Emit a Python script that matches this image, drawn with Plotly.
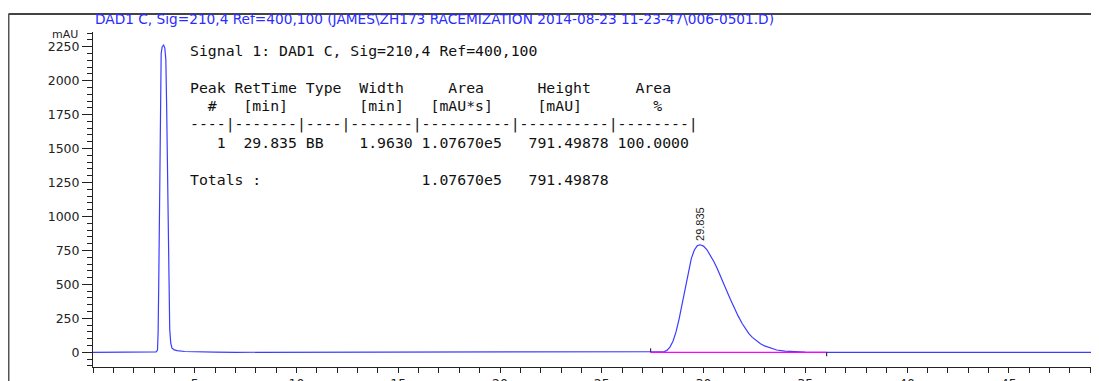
import plotly.graph_objects as go

# ---------------- data ----------------
time_min = [0.0, 2.9, 3.10, 3.17, 3.20, 3.23, 3.26, 3.29, 3.31, 3.35, 3.40, 3.47,
            3.53, 3.58, 3.62, 3.66, 3.70, 3.74, 3.77, 3.82, 3.88, 4.00, 4.13, 4.50,
            5.00, 6.00, 7.00, 27.40, 27.90, 28.05, 28.20, 28.35, 28.50, 28.65, 28.80,
            28.95, 29.10, 29.25, 29.40, 29.55, 29.70, 29.84, 30.00, 30.17, 30.35,
            30.52, 30.69, 30.85, 31.00, 31.15, 31.32, 31.50, 31.70, 31.90, 32.05,
            32.22, 32.40, 32.60, 32.80, 33.00, 33.30, 33.60, 34.00, 34.50, 35.00,
            35.50, 49.50]
signal_mau = [0, 0, 3, 17, 150, 500, 1000, 1600, 2050, 2200, 2250, 2262,
              2240, 2150, 1800, 1300, 800, 400, 170, 70, 30, 18, 12, 6,
              3, 1, 0, 0, 0, 4, 14, 38, 82, 150, 245,
              360, 480, 595, 690, 753, 786, 791.5, 782, 755, 712,
              665, 612, 560, 505, 450, 390, 330, 268, 212, 176,
              140, 110, 84, 63, 47, 29, 17, 8, 3, 1,
              0, 0]

peak_rt = [29.835]
peak_height = [791.49878]
peak_labels = ["29.835"]
baseline_start = 27.40
baseline_end = 36.05

x_ticks = [5, 10, 15, 20, 25, 30, 35, 40, 45]
y_ticks = [0, 250, 500, 750, 1000, 1250, 1500, 1750, 2000, 2250]
x_unit = "min"
y_unit = "mAU"

title_text = "DAD1 C, Sig=210,4 Ref=400,100 (JAMES\\ZH173 RACEMIZATION 2014-08-23 11-23-47\\006-0501.D)"
report_lines = [
    "Signal 1: DAD1 C, Sig=210,4 Ref=400,100",
    "",
    "Peak RetTime Type  Width     Area      Height     Area",
    "  #   [min]        [min]   [mAU*s]     [mAU]        %",
    "----|-------|----|-------|----------|----------|--------|",
    "   1  29.835 BB    1.9630 1.07670e5   791.49878 100.0000",
    "",
    "Totals :                  1.07670e5   791.49878",
]

# ---------------- layout geometry ----------------
# The page body has an 8 px default margin, so figure = screen - 8.
OFF = 8
W, H = 1099 - OFF, 381 - OFF
ML, MR, MT, MB = 85, 0, 24, 14
PW = W - ML - MR
PH = H - MT - MB
X_PX_PER_MIN = 20.35
Y_PX_PER_MAU = (352.3 - 46.7) / 2250.0
Y_ZERO_SCREEN = 352.3
PLOT_TOP_SCREEN = OFF + MT
PLOT_BOTTOM_SCREEN = OFF + H - MB
x_range = [0, PW / X_PX_PER_MIN]
y_range = [-(PLOT_BOTTOM_SCREEN - Y_ZERO_SCREEN) / Y_PX_PER_MAU,
           (Y_ZERO_SCREEN - PLOT_TOP_SCREEN) / Y_PX_PER_MAU]


def px_x(px):  # screen x -> paper
    return (px - OFF - ML) / PW


def px_y(py):  # screen y -> paper
    return (H - MB - (py - OFF)) / PH


BLUE = "#3c3cff"
AXIS_FONT = dict(family="DejaVu Sans, sans-serif", size=12.5, color="#222222")
MONO = dict(family="DejaVu Sans Mono, monospace", size=14.8, color="#111111")

fig = go.Figure()
fig.add_trace(go.Scatter(x=time_min, y=signal_mau, mode="lines",
                         line=dict(color=BLUE, width=1.2), hoverinfo="skip",
                         showlegend=False))
fig.add_trace(go.Scatter(x=[baseline_start, baseline_end], y=[0, 0], mode="lines",
                         line=dict(color="#ff00ff", width=1.3), hoverinfo="skip",
                         showlegend=False))
# x-axis unit label at the far right, below the axis (outside the plot area)
fig.add_trace(go.Scatter(x=[(1092 - OFF - ML) / X_PX_PER_MIN],
                         y=[-(378 - Y_ZERO_SCREEN) / Y_PX_PER_MAU],
                         mode="text", text=[x_unit], textposition="middle right",
                         textfont=AXIS_FONT, cliponaxis=False, hoverinfo="skip",
                         showlegend=False))

shapes = [
    # outer frame (top and left)
    dict(type="line", xref="paper", yref="paper", x0=px_x(8.5), x1=1.0,
         y0=px_y(14), y1=px_y(14), line=dict(color="#444444", width=2)),
    dict(type="line", xref="paper", yref="paper", x0=px_x(8.5), x1=px_x(8.5),
         y0=px_y(14), y1=px_y(390), line=dict(color="#555555", width=2)),
    # baseline start / end markers
    dict(type="line", xref="x", yref="y", x0=baseline_start, x1=baseline_start,
         y0=0, y1=4 / Y_PX_PER_MAU, line=dict(color="#333333", width=1.2)),
    dict(type="line", xref="x", yref="y", x0=baseline_end, x1=baseline_end,
         y0=0, y1=-4 / Y_PX_PER_MAU, line=dict(color="#333333", width=1.2)),
]

annotations = [
    dict(text=title_text, xref="paper", yref="paper", x=px_x(93), y=px_y(19),
         xanchor="left", yanchor="middle", showarrow=False,
         font=dict(family="DejaVu Sans, sans-serif", size=13.7, color="#2b2bff")),
    dict(text=y_unit, xref="paper", yref="paper", x=px_x(80), y=px_y(35),
         xanchor="right", yanchor="middle", showarrow=False,
         font=dict(family="DejaVu Sans, sans-serif", size=11, color="#222222")),
]
for rt, h, lab in zip(peak_rt, peak_height, peak_labels):
    annotations.append(dict(text=lab, x=rt, y=h, xref="x", yref="y", textangle=-90,
                            xanchor="center", yanchor="bottom", yshift=2, showarrow=False,
                            font=dict(family="Liberation Sans Narrow, Arial Narrow, sans-serif",
                                      size=11, color="#1a1a1a")))

LINE0_Y, LINE_STEP = 50.5, 18.4
for i, line in enumerate(report_lines):
    if not line:
        continue
    annotations.append(dict(text=line.replace(" ", "\u00a0"), xref="paper", yref="paper",
                            x=px_x(188), y=px_y(LINE0_Y + i * LINE_STEP),
                            xanchor="left", yanchor="middle", showarrow=False, font=MONO))

fig.update_layout(
    width=W, height=H, margin=dict(l=ML, r=MR, t=MT, b=MB, pad=0, autoexpand=False),
    paper_bgcolor="white", plot_bgcolor="white",
    shapes=shapes, annotations=annotations, showlegend=False,
    xaxis=dict(range=x_range, tickvals=x_ticks, ticks="outside", ticklen=5,
               tickcolor="#222222", showline=True, linecolor="#222222", linewidth=1,
               showgrid=False, zeroline=False, tickfont=AXIS_FONT, automargin=False,
               minor=dict(dtick=1, tick0=0, ticks="outside", ticklen=5,
                          tickcolor="#222222", showgrid=False)),
    yaxis=dict(range=y_range, tickvals=y_ticks, ticks="outside", ticklen=10,
               tickcolor="#222222", showline=True, linecolor="#222222", linewidth=1,
               showgrid=False, zeroline=False, tickfont=AXIS_FONT, automargin=False,
               minor=dict(dtick=50, tick0=0, ticks="outside", ticklen=5,
                          tickcolor="#222222", showgrid=False)),
)

fig.write_html("out.html")
